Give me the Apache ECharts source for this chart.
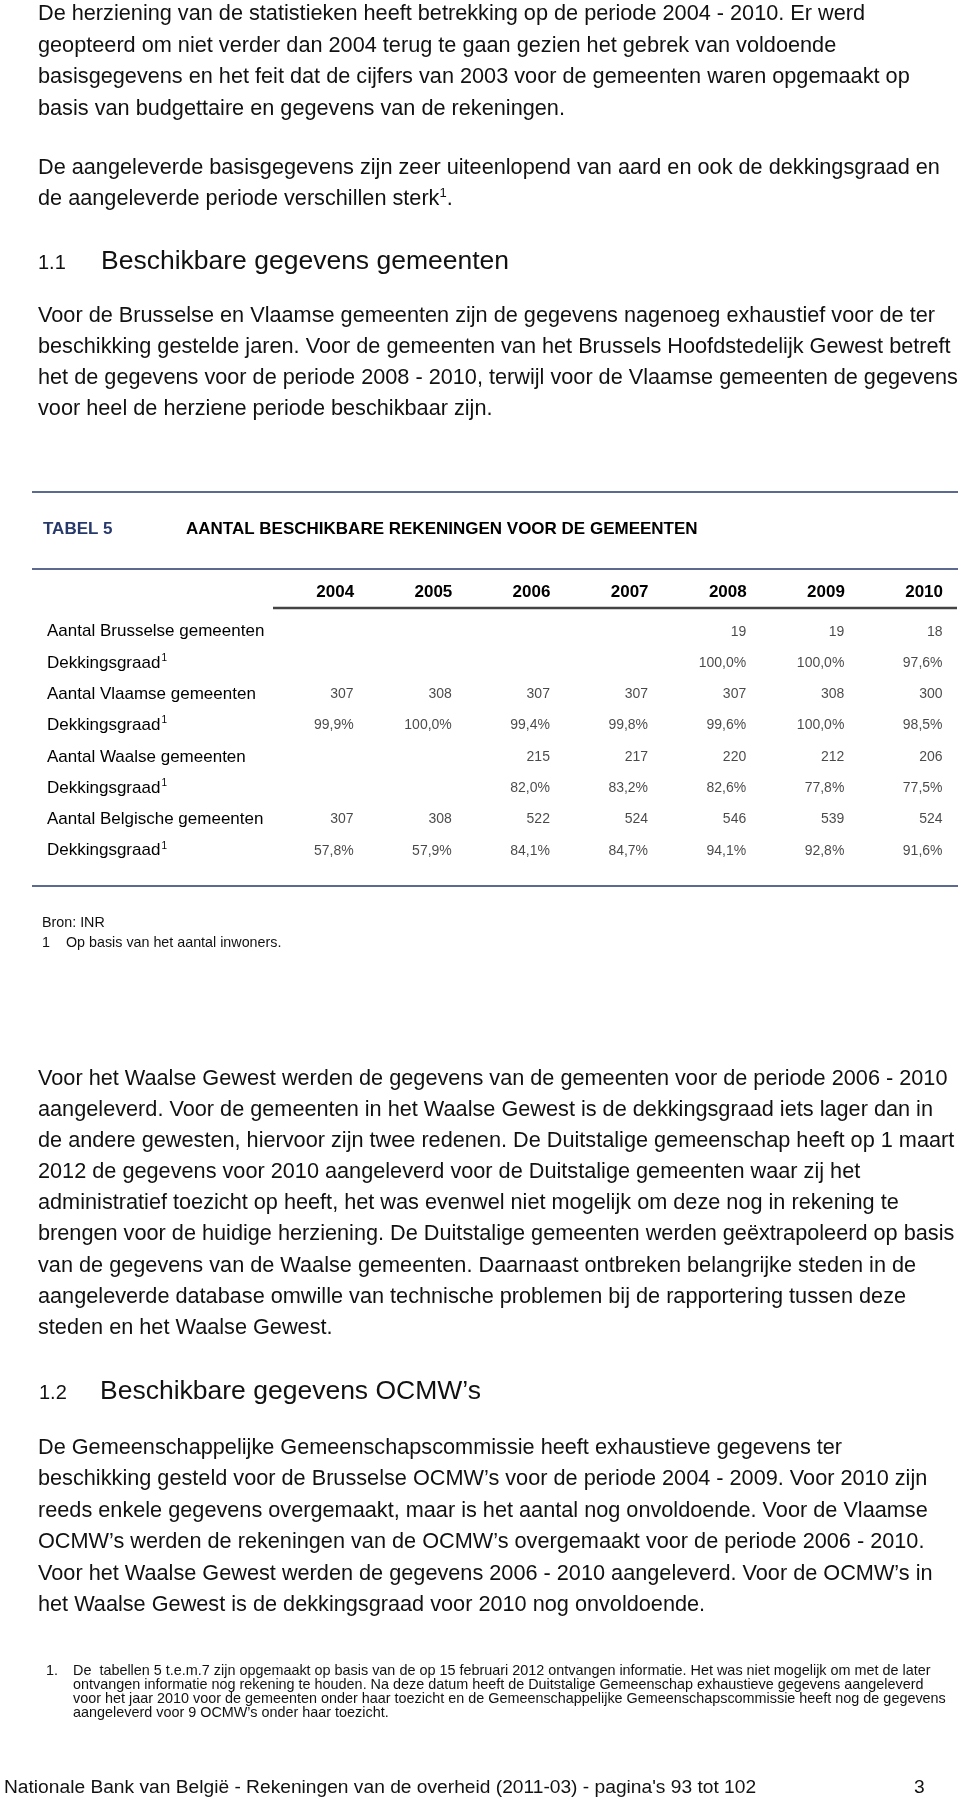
<!DOCTYPE html>
<html>
<head>
<meta charset="utf-8">
<script src="https://cdn.jsdelivr.net/npm/echarts@6/dist/echarts.min.js"></script>
<style>
html,body{margin:0;padding:0;background:#fff;}
#c{width:960px;height:1803px;}
</style>
</head>
<body>
<div id="c"></div>
<script>
// ---- Table data (TABEL 5) ----
const years = [2004, 2005, 2006, 2007, 2008, 2009, 2010];
const rowLabels = [
  'Aantal Brusselse gemeenten', 'Dekkingsgraad',
  'Aantal Vlaamse gemeenten', 'Dekkingsgraad ',
  'Aantal Waalse gemeenten', 'Dekkingsgraad  ',
  'Aantal Belgische gemeenten', 'Dekkingsgraad   '
];
const brusselseAantal = [null, null, null, null, 19, 19, 18];
const brusselseDekking = [null, null, null, null, 100.0, 100.0, 97.6];
const vlaamseAantal = [307, 308, 307, 307, 307, 308, 300];
const vlaamseDekking = [99.9, 100.0, 99.4, 99.8, 99.6, 100.0, 98.5];
const waalseAantal = [null, null, 215, 217, 220, 212, 206];
const waalseDekking = [null, null, 82.0, 83.2, 82.6, 77.8, 77.5];
const belgischeAantal = [307, 308, 522, 524, 546, 539, 524];
const belgischeDekking = [57.8, 57.9, 84.1, 84.7, 94.1, 92.8, 91.6];

const rows = [
  {vals: brusselseAantal, pct: false},
  {vals: brusselseDekking, pct: true},
  {vals: vlaamseAantal, pct: false},
  {vals: vlaamseDekking, pct: true},
  {vals: waalseAantal, pct: false},
  {vals: waalseDekking, pct: true},
  {vals: belgischeAantal, pct: false},
  {vals: belgischeDekking, pct: true}
];

// ---- Page text ----
const para1 = [
  'De herziening van de statistieken heeft betrekking op de periode 2004 - 2010. Er werd',
  'geopteerd om niet verder dan 2004 terug te gaan gezien het gebrek van voldoende',
  'basisgegevens en het feit dat de cijfers van 2003 voor de gemeenten waren opgemaakt op',
  'basis van budgettaire en gegevens van de rekeningen.'
];
const para2 = [
  'De aangeleverde basisgegevens zijn zeer uiteenlopend van aard en ook de dekkingsgraad en'
];
const para2Last = 'de aangeleverde periode verschillen sterk';
const para3 = [
  'Voor de Brusselse en Vlaamse gemeenten zijn de gegevens nagenoeg exhaustief voor de ter',
  'beschikking gestelde jaren. Voor de gemeenten van het Brussels Hoofdstedelijk Gewest betreft',
  'het de gegevens voor de periode 2008 - 2010, terwijl voor de Vlaamse gemeenten de gegevens',
  'voor heel de herziene periode beschikbaar zijn.'
];
const para4 = [
  'Voor het Waalse Gewest werden de gegevens van de gemeenten voor de periode 2006 - 2010',
  'aangeleverd. Voor de gemeenten in het Waalse Gewest is de dekkingsgraad iets lager dan in',
  'de andere gewesten, hiervoor zijn twee redenen. De Duitstalige gemeenschap heeft op 1 maart',
  '2012 de gegevens voor 2010 aangeleverd voor de Duitstalige gemeenten waar zij het',
  'administratief toezicht op heeft, het was evenwel niet mogelijk om deze nog in rekening te',
  'brengen voor de huidige herziening. De Duitstalige gemeenten werden geëxtrapoleerd op basis',
  'van de gegevens van de Waalse gemeenten. Daarnaast ontbreken belangrijke steden in de',
  'aangeleverde database omwille van technische problemen bij de rapportering tussen deze',
  'steden en het Waalse Gewest.'
];
const para5 = [
  'De Gemeenschappelijke Gemeenschapscommissie heeft exhaustieve gegevens ter',
  'beschikking gesteld voor de Brusselse OCMW’s voor de periode 2004 - 2009. Voor 2010 zijn',
  'reeds enkele gegevens overgemaakt, maar is het aantal nog onvoldoende. Voor de Vlaamse',
  'OCMW’s werden de rekeningen van de OCMW’s overgemaakt voor de periode 2006 - 2010.',
  'Voor het Waalse Gewest werden de gegevens 2006 - 2010 aangeleverd. Voor de OCMW’s in',
  'het Waalse Gewest is de dekkingsgraad voor 2010 nog onvoldoende.'
];
const footnote = [
  'De  tabellen 5 t.e.m.7 zijn opgemaakt op basis van de op 15 februari 2012 ontvangen informatie. Het was niet mogelijk om met de later',
  'ontvangen informatie nog rekening te houden. Na deze datum heeft de Duitstalige Gemeenschap exhaustieve gegevens aangeleverd',
  'voor het jaar 2010 voor de gemeenten onder haar toezicht en de Gemeenschappelijke Gemeenschapscommissie heeft nog de gegevens',
  'aangeleverd voor 9 OCMW’s onder haar toezicht.'
];

const FONT = '"Liberation Sans", Arial, Helvetica, sans-serif';
const INK = '#111';
const NAVY = '#27386b';

const graphics = [];
function txt(x, y, text, size, opts) {
  opts = opts || {};
  graphics.push({
    type: 'text', x: x, y: y, silent: true,
    style: Object.assign({
      text: text, fill: opts.fill || INK,
      font: (opts.weight || 'normal') + ' ' + size + 'px ' + FONT,
      verticalAlign: 'middle', align: opts.align || 'left'
    }, opts.extra || {})
  });
}
function lines(x, y0, arr, size, lh) {
  arr.forEach((t, i) => txt(x, y0 + i * lh, t, size));
}
function hline(x1, x2, y, w, color) {
  graphics.push({type: 'line', silent: true,
    shape: {x1: x1, y1: y, x2: x2, y2: y},
    style: {stroke: color, lineWidth: w}});
}

const BODY = 21.7;
lines(38, 14, para1, BODY, 31.7);
lines(38, 168, para2, BODY, 31.3);
graphics.push({
  type: 'text', x: 38, y: 199, silent: true,
  style: {
    text: '{a|' + para2Last + '}{s|1}{a|.}',
    verticalAlign: 'middle', fill: INK,
    rich: {
      a: {fontSize: BODY, fontFamily: FONT, fill: INK, lineHeight: 24},
      s: {fontSize: 13, fontFamily: FONT, fill: INK, lineHeight: 13, verticalAlign: 'top'}
    }
  }
});
txt(38, 263, '1.1', 20);
txt(101, 262, 'Beschikbare gegevens gemeenten', 26.5);
lines(38, 316, para3, BODY, 31);

// table frame
hline(32, 958, 492, 1.6, NAVY);
txt(43, 529, 'TABEL 5', 17, {weight: 'bold', fill: NAVY});
txt(186, 529, 'AANTAL BESCHIKBARE REKENINGEN VOOR DE GEMEENTEN', 17, {weight: 'bold', fill: '#000'});
hline(32, 958, 569, 1.6, NAVY);
hline(273, 957, 608, 2.6, '#444');
hline(32, 958, 886, 1.6, NAVY);
txt(42, 923, 'Bron: INR', 14.3);
txt(42, 943, '1', 14.3);
txt(66, 943, 'Op basis van het aantal inwoners.', 14.3);

lines(38, 1079, para4, BODY, 31.1);
txt(39, 1393, '1.2', 20);
txt(100, 1392, 'Beschikbare gegevens OCMW’s', 26.5);
lines(38, 1448, para5, BODY, 31.4);

txt(46, 1671, '1.', 14.4);
lines(73, 1671, footnote, 14.4, 14);
txt(4, 1788, 'Nationale Bank van België - Rekeningen van de overheid (2011-03) - pagina\'s 93 tot 102', 19.2);
txt(914, 1788, '3', 19.2);

// table series
function fmt(v, pct) {
  if (v == null) return '';
  return pct ? v.toFixed(1).replace('.', ',') + '%' : String(v);
}
const series = rows.map((r, ri) => ({
  type: 'scatter',
  symbolSize: 1,
  itemStyle: {color: 'rgba(0,0,0,0)'},
  silent: true,
  data: r.vals.map((v, i) => v == null ? null : {value: [years[i], ri], raw: v}).filter(d => d),
  label: {
    show: true, position: 'left', distance: 0,
    fontFamily: FONT, fontSize: 14, color: '#1a1a1a',
    formatter: p => fmt(p.data.raw, r.pct)
  }
}));

const chart = echarts.init(document.getElementById('c'), null, {renderer: 'canvas'});
chart.setOption({
  animation: false,
  backgroundColor: '#fff',
  grid: {left: 256, right: 17, top: 616, height: 250.4},
  xAxis: {
    type: 'value', min: 2003, max: 2010, interval: 1, position: 'top',
    axisLine: {show: false}, axisTick: {show: false}, splitLine: {show: false},
    axisLabel: {
      showMinLabel: false, align: 'right', margin: 15,
      fontFamily: FONT, fontSize: 17, fontWeight: 'bold', color: '#000',
      formatter: v => String(v)
    }
  },
  yAxis: {
    type: 'category', inverse: true, data: rowLabels,
    axisLine: {show: false}, axisTick: {show: false}, splitLine: {show: false},
    axisLabel: {
      align: 'left', margin: 209,
      formatter: v => v.indexOf('Dekkingsgraad') === 0 ? '{t|Dekkingsgraad}{s|1}' : '{t|' + v + '}',
      rich: {
        t: {fontFamily: FONT, fontSize: 17, color: '#000', lineHeight: 20},
        s: {fontFamily: FONT, fontSize: 10, color: '#000', lineHeight: 8, verticalAlign: 'top', padding: [0, 0, 0, 1]}
      }
    }
  },
  series: series,
  graphic: graphics
});
</script>
</body>
</html>
